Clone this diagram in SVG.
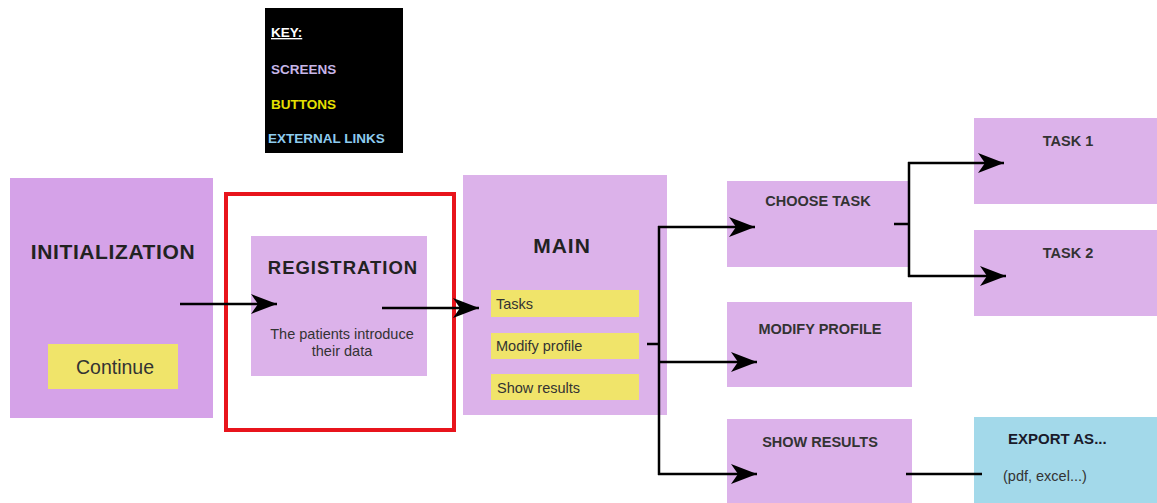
<svg xmlns="http://www.w3.org/2000/svg" width="1157" height="503" viewBox="0 0 1157 503">
  <style>
    .screen { fill: #dcb2ea; }
    .screen-dark { fill: #d5a2e8; }
    .button { fill: #f0e46a; }
    .ext { fill: #a3d9ea; }
    .title { font-family: "Liberation Sans", Arial, sans-serif; font-weight: bold; fill: #222; text-anchor: middle; }
    .small { font-family: "Liberation Sans", Arial, sans-serif; font-weight: bold; fill: #333; text-anchor: middle; font-size: 14.5px; }
    .label { font-family: "Liberation Sans", Arial, sans-serif; fill: #333; }
    .key { font-family: "Liberation Sans", Arial, sans-serif; font-weight: bold; font-size: 13.5px; }
    .wire { stroke: #000; stroke-width: 2.5; fill: none; }
  </style>
  <defs>
    <marker id="arrow" markerUnits="userSpaceOnUse" markerWidth="30" markerHeight="30" refX="26" refY="12" orient="auto" viewBox="0 0 30 24">
      <path d="M0,2 L26,12 L0,22 L7,12 Z" fill="#000"/>
    </marker>
  </defs>

  <rect width="1157" height="503" fill="#ffffff"/>

  <!-- legend -->
  <g id="key">
    <rect x="265" y="8" width="138" height="145" fill="#000"/>
    <text x="271" y="37" class="key" fill="#ffffff" text-decoration="underline">KEY:</text>
    <text x="271" y="74" class="key" fill="#c7b6e8">SCREENS</text>
    <text x="271" y="109" class="key" fill="#e6e000">BUTTONS</text>
    <text x="268" y="143" class="key" fill="#8ecbef">EXTERNAL LINKS</text>
  </g>

  <g id="initialization">
    <rect x="10" y="178" width="203" height="240" class="screen-dark"/>
    <text x="113" y="259" class="title" font-size="21" letter-spacing="0.6">INITIALIZATION</text>
    <rect x="48" y="344" width="130" height="45" class="button"/>
    <text x="115" y="374" class="label" font-size="19.5" text-anchor="middle">Continue</text>
  </g>

  <g id="registration">
    <rect x="226" y="194" width="228" height="236" fill="none" stroke="#e8141c" stroke-width="4"/>
    <rect x="251" y="236" width="176" height="140" class="screen"/>
    <text x="343" y="274" class="title" font-size="18.5" letter-spacing="1">REGISTRATION</text>
    <text x="342" y="339" class="label" font-size="14.5" text-anchor="middle">The patients introduce</text>
    <text x="342" y="356" class="label" font-size="14.5" text-anchor="middle">their data</text>
  </g>

  <g id="main">
    <rect x="463" y="175" width="204" height="240" class="screen"/>
    <text x="562" y="253" class="title" font-size="21" letter-spacing="1">MAIN</text>
    <rect x="491" y="290" width="148" height="27" class="button"/>
    <text x="496" y="309" class="label" font-size="14.5">Tasks</text>
    <rect x="491" y="333" width="148" height="26" class="button"/>
    <text x="496" y="351" class="label" font-size="14.5">Modify profile</text>
    <rect x="491" y="374" width="148" height="26" class="button"/>
    <text x="497" y="393" class="label" font-size="14.5">Show results</text>
  </g>

  <g id="choose-task">
    <rect x="727" y="181" width="183" height="86" class="screen"/>
    <text x="818" y="206" class="small">CHOOSE TASK</text>
  </g>

  <g id="modify-profile">
    <rect x="727" y="302" width="185" height="85" class="screen"/>
    <text x="820" y="334" class="small">MODIFY PROFILE</text>
  </g>

  <g id="show-results">
    <rect x="727" y="419" width="185" height="84" class="screen"/>
    <text x="820" y="447" class="small">SHOW RESULTS</text>
  </g>

  <g id="task-1">
    <rect x="974" y="118" width="183" height="86" class="screen"/>
    <text x="1068" y="146" class="small">TASK 1</text>
  </g>

  <g id="task-2">
    <rect x="974" y="230" width="183" height="86" class="screen"/>
    <text x="1068" y="258" class="small">TASK 2</text>
  </g>

  <g id="export">
    <rect x="974" y="417" width="183" height="86" class="ext"/>
    <text x="1008" y="444" font-family="Liberation Sans, Arial, sans-serif" font-weight="bold" font-size="15" fill="#1a1a2a">EXPORT AS...</text>
    <text x="1003" y="481" class="label" font-size="14.5" fill="#222">(pdf, excel...)</text>
  </g>

  <g id="connectors">
    <line x1="180" y1="304" x2="277" y2="304" class="wire" marker-end="url(#arrow)"/>
    <line x1="382" y1="308" x2="479" y2="308" class="wire" marker-end="url(#arrow)"/>
    <line x1="647" y1="344" x2="659" y2="344" class="wire"/>
    <line x1="659" y1="226" x2="659" y2="475" class="wire"/>
    <line x1="658" y1="227" x2="755" y2="227" class="wire" marker-end="url(#arrow)"/>
    <line x1="658" y1="362" x2="757" y2="362" class="wire" marker-end="url(#arrow)"/>
    <line x1="658" y1="474" x2="757" y2="474" class="wire" marker-end="url(#arrow)"/>
    <line x1="894" y1="224" x2="909" y2="224" class="wire"/>
    <line x1="909" y1="162" x2="909" y2="277" class="wire"/>
    <line x1="908" y1="163" x2="1004" y2="163" class="wire" marker-end="url(#arrow)"/>
    <line x1="908" y1="276" x2="1006" y2="276" class="wire" marker-end="url(#arrow)"/>
    <line x1="906" y1="474" x2="982" y2="474" class="wire"/>
  </g>
</svg>
